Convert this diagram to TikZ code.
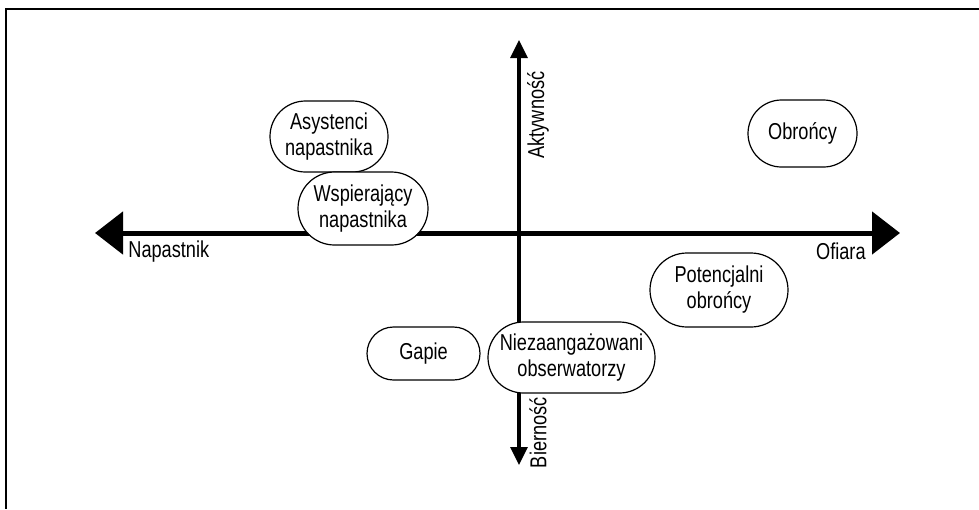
\documentclass[tikz,border=0pt]{standalone}
\usepackage{fontspec}
\setmainfont[FakeStretch=0.79]{Liberation Sans}
\usetikzlibrary{positioning,arrows.meta}

\begin{document}
\begin{tikzpicture}[x=0.5pt,y=-0.5pt,
  role/.style n args={3}{draw,fill=white,line width=0.6pt,align=center,
    inner sep=0pt,minimum width=#1,minimum height=#2,rounded corners=#3,
    font=\fontsize{11.5}{13}\selectfont},
  axlabel/.style={inner sep=0pt,font=\fontsize{11.5}{13}\selectfont}]
\useasboundingbox (0,0) rectangle (979,509);

\def\xl{95};
\def\xr{900};
\def\ya{233};
\def\xm{519};
\def\yt{40};
\def\yb{465};

% frame
\coordinate (fa) at (979,9);
\coordinate (fb) at (6,9);
\coordinate (fc) at (6,509);
\draw[line width=0.7pt] (fa) -- (fb) -- (fc);

% axes
\coordinate (west) at (\xl,\ya);
\coordinate (east) at (\xr,\ya);
\coordinate (north) at (\xm,\yt);
\coordinate (south) at (\xm,\yb);
\draw[line width=2.5pt,{Triangle[length=14pt,width=21pt]}-{Triangle[length=14pt,width=21pt]}] (west) -- (east);
\draw[line width=1.6pt,{Triangle[length=9pt,width=8.5pt]}-{Triangle[length=9pt,width=8.5pt]}] (south) -- (north);

\node[axlabel,anchor=west] (napast) at (128,252) {Napastnik};
\node[axlabel,anchor=east] (ofiara) at (866,251) {Ofiara};
\node[axlabel,rotate=90] (aktyw) at (538,115) {Aktywność};
\node[axlabel,rotate=90,anchor=east] (biern) at (538,397) {Bierność};

% roles
\node[role={59pt}{35.5pt}{17.75pt}] (asyst) at (329,136.5) {Asystenci\\napastnika};
\node[role={65pt}{36.5pt}{18.25pt}] (wspier) at (363,208.5) {Wspierający\\napastnika};
\node[role={54.5pt}{33.5pt}{16.75pt}] (obr) at (802.5,133.5) {Obrońcy};
\node[role={69pt}{37pt}{18.5pt}] (potenc) at (719,290) {Potencjalni\\obrońcy};
\node[role={56.5pt}{26.5pt}{13.25pt}] (gapie) at (423.5,353.5) {Gapie};
\node[role={83.5pt}{35.5pt}{17.75pt}] (niez) at (571.5,357.5) {Niezaangażowani\\obserwatorzy};
\end{tikzpicture}
\end{document}
